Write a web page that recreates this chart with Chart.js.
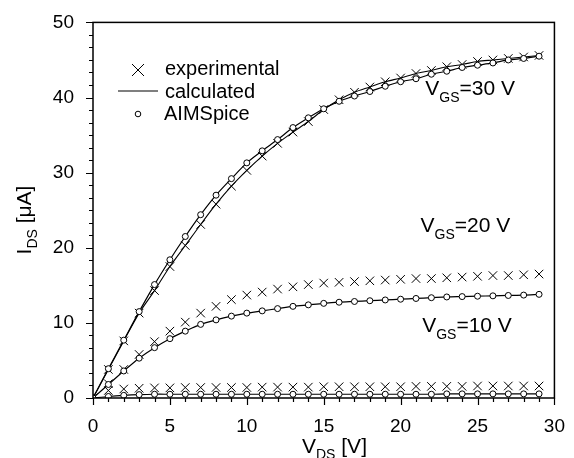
<!DOCTYPE html>
<html>
<head>
<meta charset="utf-8">
<script src="https://cdn.jsdelivr.net/npm/chart.js@4/dist/chart.umd.min.js"></script>
<style>
html,body{margin:0;padding:0;background:#fff;}
#wrap{position:relative;width:574px;height:458px;}
</style>
</head>
<body>
<div id="wrap"><canvas id="c" width="574" height="458"></canvas></div>
<script>
// V_DS values (V)
const vds = [0,1,2,3,4,5,6,7,8,9,10,11,12,13,14,15,16,17,18,19,20,21,22,23,24,25,26,27,28,29];

// VGS = 30 V
const exp30  = [0,3.8,7.6,11.3,14.3,17.5,20.3,23.1,25.8,28.2,30.3,32.2,33.9,35.4,36.8,38.4,39.7,40.7,41.4,42.1,42.6,43.2,43.6,44.1,44.4,44.8,45.0,45.2,45.4,45.6];
const aim30  = [0,3.9,7.7,11.5,15.1,18.4,21.5,24.4,27.0,29.2,31.3,32.9,34.4,36.0,37.3,38.5,39.5,40.2,40.8,41.5,42.1,42.5,43.1,43.5,44.0,44.3,44.6,45.0,45.2,45.5];
const calc30 = [0,3.9,7.7,11.5,15.1,18.4,21.5,24.4,27.0,29.2,31.3,32.9,34.4,36.0,37.3,38.5,39.5,40.2,40.8,41.5,42.1,42.5,43.1,43.5,44.0,44.3,44.6,45.0,45.2,45.5];

// VGS = 20 V
const exp20  = [0,1.9,3.8,5.8,7.5,8.9,10.1,11.3,12.2,13.1,13.7,14.1,14.5,14.8,15.1,15.3,15.4,15.5,15.6,15.7,15.8,15.9,15.9,16.0,16.1,16.2,16.3,16.3,16.4,16.5];
const aim20  = [0,1.8,3.6,5.3,6.7,7.9,8.9,9.8,10.4,10.9,11.3,11.6,11.9,12.2,12.4,12.6,12.75,12.85,12.95,13.05,13.15,13.25,13.35,13.45,13.5,13.55,13.6,13.65,13.7,13.8];
const calc20 = [0,1.8,3.6,5.3,6.7,7.9,8.9,9.8,10.4,10.9,11.3,11.6,11.9,12.2,12.4,12.6,12.75,12.85,12.95,13.05,13.15,13.25,13.35,13.45,13.5,13.55,13.6,13.65,13.7,13.8];

// VGS = 10 V
const exp10  = [0,1.0,1.2,1.3,1.35,1.35,1.4,1.4,1.4,1.4,1.4,1.45,1.45,1.45,1.45,1.5,1.5,1.5,1.5,1.5,1.5,1.55,1.55,1.55,1.55,1.6,1.6,1.6,1.6,1.6];
const aim10  = [0,0.2,0.35,0.45,0.5,0.5,0.5,0.5,0.5,0.5,0.5,0.5,0.5,0.5,0.5,0.5,0.5,0.5,0.5,0.5,0.5,0.5,0.5,0.55,0.55,0.55,0.55,0.55,0.55,0.55];
const calc10 = [0,0.2,0.35,0.45,0.5,0.5,0.5,0.5,0.5,0.5,0.5,0.5,0.5,0.5,0.5,0.5,0.5,0.5,0.5,0.5,0.5,0.5,0.5,0.55,0.55,0.55,0.55,0.55,0.55,0.55];

// Axis ticks
const xMajorTicks = [0,5,10,15,20,25,30];
const yMajorTicks = [0,10,20,30,40,50];
const xMinorStep = 1;
const yMinorStep = 10/6;

// Text
const legendLabels = ['experimental','calculated','AIMSpice'];
const curveLabels = [
  {main:'V', sub:'GS', rest:'=30 V', x:21.6, y:40.4},
  {main:'V', sub:'GS', rest:'=20 V', x:21.3, y:22.1},
  {main:'V', sub:'GS', rest:'=10 V', x:21.4, y:8.8}
];
const xTitle = {main:'V', sub:'DS', rest:' [V]'};
const yTitle = {main:'I', sub:'DS', rest:' [\u03bcA]'};

const FONT = "'Liberation Sans', Arial, Helvetica, sans-serif";
const INK = '#000';

function pts(ys){ return vds.map((x,i)=>({x:x, y:ys[i]})); }

const crossStyle = {pointStyle:'crossRot', pointRadius:6, pointBorderWidth:1, borderColor:INK, backgroundColor:INK, pointHoverRadius:6};
const circleStyle = {pointStyle:'circle', pointRadius:3, pointBorderWidth:1, borderColor:INK, pointBackgroundColor:'#fff', backgroundColor:'#fff', showLine:false, pointHoverRadius:3};
const lineStyle = {pointRadius:0, borderColor:INK, borderWidth:1.2, showLine:true, fill:false, tension:0.3, pointHoverRadius:0};

const datasets = [
  Object.assign({label:'aim30', data:pts(aim30)}, circleStyle),
  Object.assign({label:'aim20', data:pts(aim20)}, circleStyle),
  Object.assign({label:'aim10', data:pts(aim10)}, circleStyle),
  Object.assign({label:'exp30', data:pts(exp30), showLine:true, borderWidth:1.1, tension:0.3}, crossStyle),
  Object.assign({label:'exp20', data:pts(exp20), showLine:false}, crossStyle),
  Object.assign({label:'exp10', data:pts(exp10), showLine:false}, crossStyle),
  Object.assign({label:'calc30', data:pts(calc30)}, lineStyle),
  Object.assign({label:'calc20', data:pts(calc20)}, lineStyle),
  Object.assign({label:'calc10', data:pts(calc10)}, lineStyle)
];

function drawSubText(ctx, x, y, t, big, small, subDrop){
  ctx.font = big + 'px ' + FONT;
  ctx.fillText(t.main, x, y);
  let w = ctx.measureText(t.main).width;
  ctx.font = small + 'px ' + FONT;
  ctx.fillText(t.sub, x + w, y + subDrop);
  w += ctx.measureText(t.sub).width;
  ctx.font = big + 'px ' + FONT;
  ctx.fillText(t.rest, x + w, y);
}
function subTextWidth(ctx, t, big, small){
  ctx.font = big + 'px ' + FONT;
  let w = ctx.measureText(t.main).width + ctx.measureText(t.rest).width;
  ctx.font = small + 'px ' + FONT;
  return w + ctx.measureText(t.sub).width;
}

const decor = {
  id:'decor',
  afterDraw(chart){
    const ctx = chart.ctx, a = chart.chartArea;
    const xs = chart.scales.x, ys = chart.scales.y;
    ctx.save();
    ctx.strokeStyle = INK; ctx.fillStyle = INK;
    // frame
    ctx.lineWidth = 1.5;
    ctx.strokeRect(a.left, a.top, a.right - a.left, a.bottom - a.top);
    // ticks
    ctx.lineWidth = 1.2;
    ctx.beginPath();
    for (let v = xs.min; v <= xs.max + 1e-9; v += xMinorStep){
      const p = Math.round(xs.getPixelForValue(v)) + 0.5;
      const major = xMajorTicks.some(m => Math.abs(m - v) < 1e-6);
      ctx.moveTo(p, a.bottom); ctx.lineTo(p, a.bottom + (major ? 7 : 4));
    }
    for (let i = 0; i <= 30; i++){
      const v = i * yMinorStep;
      const p = Math.round(ys.getPixelForValue(v)) + 0.5;
      const major = yMajorTicks.some(m => Math.abs(m - v) < 1e-6);
      ctx.moveTo(a.left, p); ctx.lineTo(a.left - (major ? 7 : 4), p);
    }
    ctx.stroke();
    // legend
    const lx = 138;
    ctx.lineWidth = 1;
    ctx.beginPath();
    ctx.moveTo(lx - 6, 64); ctx.lineTo(lx + 6, 76);
    ctx.moveTo(lx + 6, 64); ctx.lineTo(lx - 6, 76);
    ctx.stroke();
    ctx.lineWidth = 1.2;
    ctx.beginPath(); ctx.moveTo(118, 91); ctx.lineTo(158, 91); ctx.stroke();
    ctx.lineWidth = 1;
    ctx.beginPath(); ctx.arc(lx, 114, 2.8, 0, Math.PI*2); ctx.fillStyle='#fff'; ctx.fill(); ctx.stroke();
    ctx.fillStyle = INK;
    ctx.font = '20px ' + FONT;
    ctx.textBaseline = 'alphabetic'; ctx.textAlign = 'left';
    ctx.fillText(legendLabels[0], 165, 75);
    ctx.fillText(legendLabels[1], 165, 97.5);
    ctx.fillText(legendLabels[2], 164, 119.5);
    // curve labels
    curveLabels.forEach(c => {
      drawSubText(ctx, xs.getPixelForValue(c.x), ys.getPixelForValue(c.y), c, 21, 14, 7);
    });
    // x title
    drawSubText(ctx, 302, 452.5, xTitle, 21, 14, 6);
    // y title (rotated)
    ctx.save();
    ctx.translate(31, 220);
    ctx.rotate(-Math.PI/2);
    const w = subTextWidth(ctx, yTitle, 21, 14);
    drawSubText(ctx, -w/2, 0, yTitle, 21, 14, 6);
    ctx.restore();
    ctx.restore();
  }
};

new Chart(document.getElementById('c'), {
  type:'scatter',
  data:{datasets},
  options:{
    responsive:false,
    animation:false,
    devicePixelRatio:1,
    layout:{padding:{top:22, right:11, left:0, bottom:0}},
    plugins:{legend:{display:false}, tooltip:{enabled:false}},
    elements:{line:{borderColor:INK}},
    scales:{
      x:{
        type:'linear', min:0, max:30,
        grid:{display:false}, border:{display:false},
        afterFit(s){ s.height = 60; },
        ticks:{stepSize:5, color:INK, padding:9, font:{family:FONT, size:19}, maxRotation:0, autoSkip:false}
      },
      y:{
        type:'linear', min:0, max:50,
        grid:{display:false}, border:{display:false},
        afterFit(s){ s.width = 93; },
        ticks:{stepSize:10, color:INK, padding:11, font:{family:FONT, size:19}, autoSkip:false}
      }
    }
  },
  plugins:[decor]
});
</script>
</body>
</html>
